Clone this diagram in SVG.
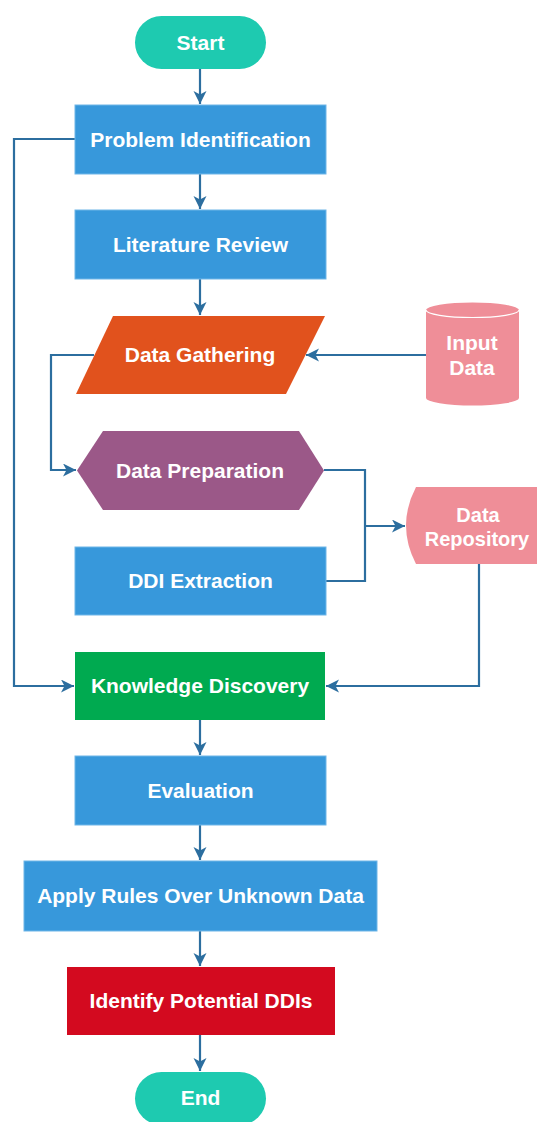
<svg xmlns="http://www.w3.org/2000/svg" width="537" height="1122" viewBox="0 0 537 1122">
<style>
.t{font-family:"Liberation Sans",Arial,sans-serif;font-weight:bold;font-size:21px;fill:#fff;text-anchor:middle}
.c{fill:none;stroke:#2C6E9F;stroke-width:2.2}
.blue{fill:#3798DB;stroke:#6FB6E8;stroke-width:1}
.teal{fill:#1ECAB0}
.pink{fill:#EF8E98}
</style>
<defs>
<marker id="ah" markerUnits="userSpaceOnUse" markerWidth="16" markerHeight="16" refX="13" refY="6.5" orient="auto">
<path d="M0,0 L13,6.5 L0,13 L3.5,6.5 Z" fill="#2C6E9F"/>
</marker>
</defs>
<rect width="537" height="1122" fill="#fff"/>
<g id="connectors">
<path class="c" d="M200,69 V104" marker-end="url(#ah)"/>
<path class="c" d="M200,174 V209" marker-end="url(#ah)"/>
<path class="c" d="M200,279 V315" marker-end="url(#ah)"/>
<path class="c" d="M75,139 H14 V686 H74" marker-end="url(#ah)"/>
<path class="c" d="M426,355 H306" marker-end="url(#ah)"/>
<path class="c" d="M94,355 H51 V470 H76" marker-end="url(#ah)"/>
<path class="c" d="M324,470 H365 V581 H326"/>
<path class="c" d="M365,526 H405" marker-end="url(#ah)"/>
<path class="c" d="M479,564 V686 H326" marker-end="url(#ah)"/>
<path class="c" d="M200,720 V755" marker-end="url(#ah)"/>
<path class="c" d="M200,825 V860" marker-end="url(#ah)"/>
<path class="c" d="M200,931 V966" marker-end="url(#ah)"/>
<path class="c" d="M200,1035 V1071" marker-end="url(#ah)"/>
</g>
<g id="start">
<rect class="teal" x="135" y="16" width="131" height="53" rx="26.5"/>
<text class="t" x="200.5" y="50">Start</text>
</g>
<g id="problem">
<rect class="blue" x="75" y="105" width="251" height="69"/>
<text class="t" x="200.5" y="147">Problem Identification</text>
</g>
<g id="literature">
<rect class="blue" x="75" y="210" width="251" height="69"/>
<text class="t" x="200.5" y="252">Literature Review</text>
</g>
<g id="gathering">
<path d="M113,316 H325 L286,394 H76 Z" fill="#E1521D"/>
<text class="t" x="200" y="362">Data Gathering</text>
</g>
<g id="input">
<path class="pink" d="M426,310 A46.5,7.5 0 0 1 519,310 V398 A46.5,7.5 0 0 1 426,398 Z"/>
<path d="M426,310 A46.5,7.5 0 0 0 519,310" fill="none" stroke="#fff" stroke-width="1.2"/>
<text class="t" x="472" y="350">Input</text>
<text class="t" x="472" y="375">Data</text>
</g>
<g id="preparation">
<path d="M77,470.5 L103,431 H299 L324,470.5 L299,510 H103 Z" fill="#9B5888"/>
<text class="t" x="200" y="478">Data Preparation</text>
</g>
<g id="repository">
<path class="pink" d="M416,487 H540 V564 H416 Q396,525.5 416,487 Z"/>
<text class="t" x="478" y="522" style="font-size:20px">Data</text>
<text class="t" x="477" y="546" style="font-size:20px">Repository</text>
</g>
<g id="ddi">
<rect class="blue" x="75" y="547" width="251" height="68"/>
<text class="t" x="200.5" y="588">DDI Extraction</text>
</g>
<g id="knowledge">
<rect x="75" y="652" width="250" height="68" fill="#00AA50"/>
<text class="t" x="200" y="693">Knowledge Discovery</text>
</g>
<g id="evaluation">
<rect class="blue" x="75" y="756" width="251" height="69"/>
<text class="t" x="200.5" y="798">Evaluation</text>
</g>
<g id="apply">
<rect class="blue" x="24" y="861" width="353" height="70"/>
<text class="t" x="200.5" y="903">Apply Rules Over Unknown Data</text>
</g>
<g id="identify">
<rect x="67" y="967" width="268" height="68" fill="#D30A1F"/>
<text class="t" x="201" y="1008">Identify Potential DDIs</text>
</g>
<g id="end">
<rect class="teal" x="135" y="1072" width="131" height="53" rx="26.5"/>
<text class="t" x="200.5" y="1105">End</text>
</g>
</svg>
